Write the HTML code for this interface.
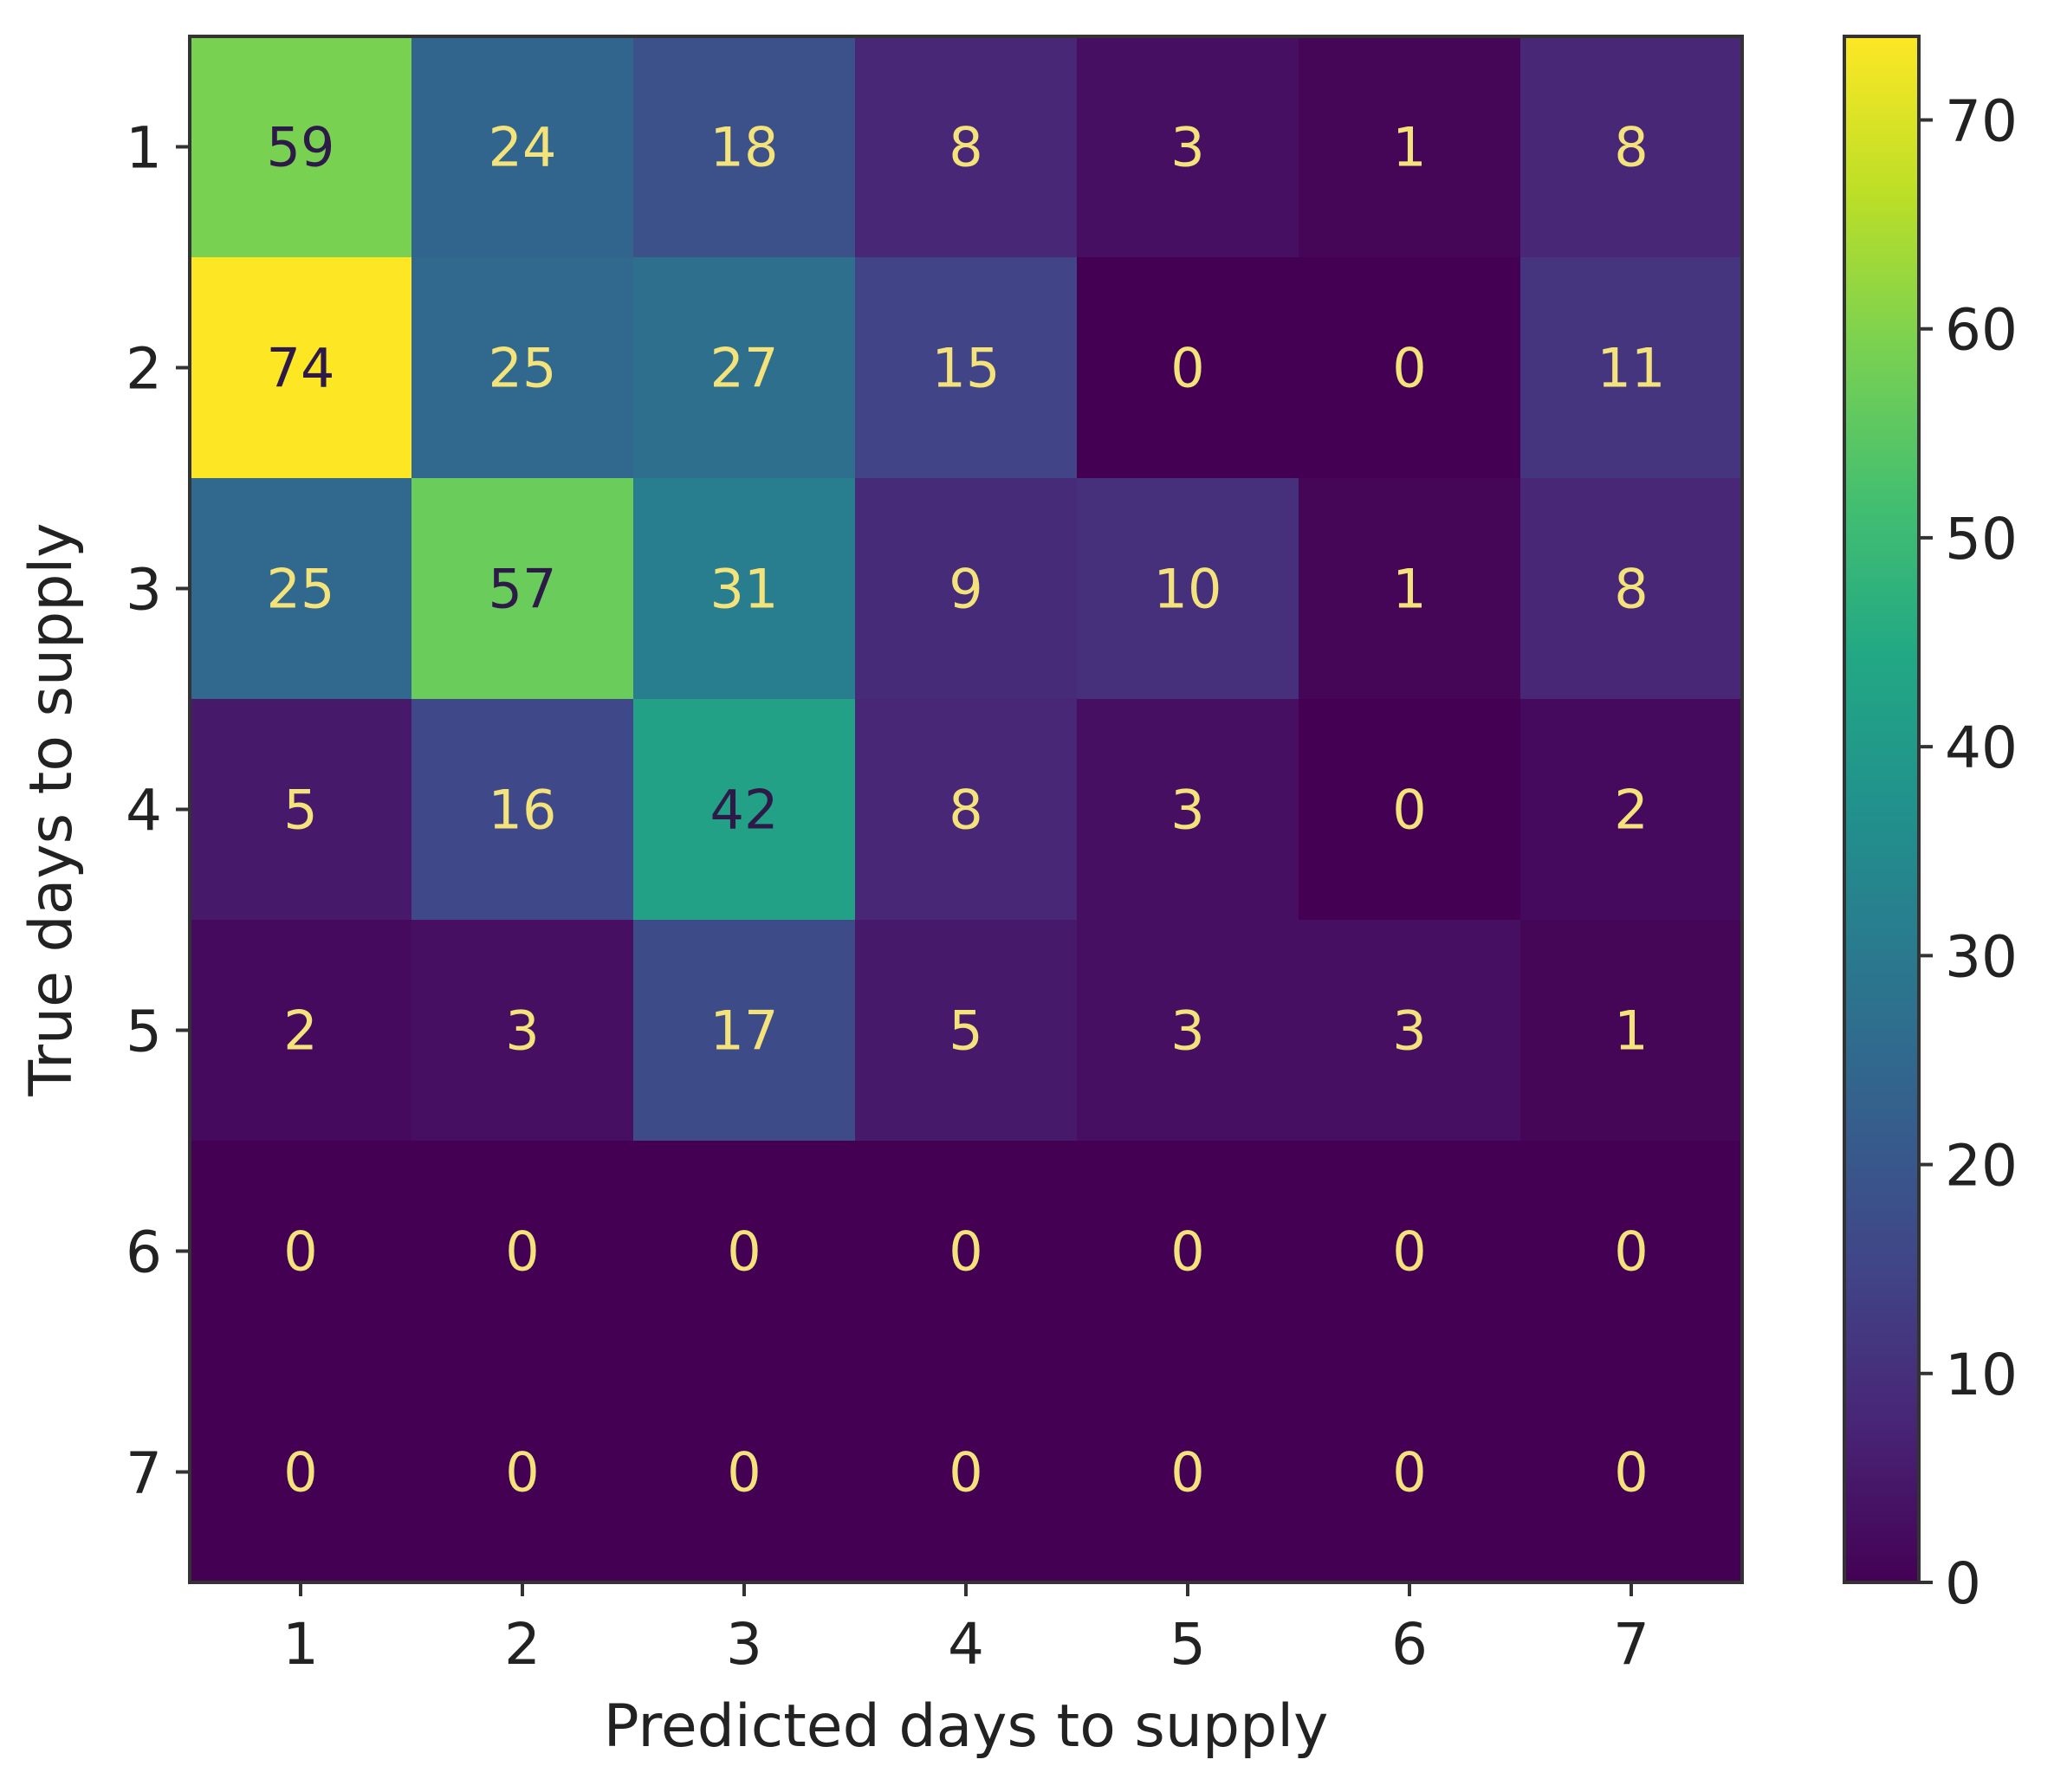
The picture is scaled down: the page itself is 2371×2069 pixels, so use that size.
<!DOCTYPE html>
<html><head><meta charset="utf-8"><style>
html,body{margin:0;padding:0;background:#fff;}
svg{display:block;}
text{font-family:"DejaVu Sans","Liberation Sans",sans-serif;}
</style></head><body>
<svg id="chart" width="2371" height="2069" viewBox="0 0 2371 2069" xmlns="http://www.w3.org/2000/svg">
<defs>
<linearGradient id="vir" x1="0" y1="1" x2="0" y2="0">
<stop offset="0" stop-color="#440154"/><stop offset="0.1" stop-color="#482475"/><stop offset="0.2" stop-color="#414487"/><stop offset="0.3" stop-color="#355f8d"/><stop offset="0.4" stop-color="#2a788e"/><stop offset="0.5" stop-color="#21918c"/><stop offset="0.6" stop-color="#22a884"/><stop offset="0.7" stop-color="#44bf70"/><stop offset="0.8" stop-color="#7ad151"/><stop offset="0.9" stop-color="#bddf26"/><stop offset="1" stop-color="#fde725"/>
</linearGradient>
</defs>
<g id="cells"></g>
<g id="axes"></g>
</svg>
<script>
const categories = ["1","2","3","4","5","6","7"];
const matrixValues = [
 [59,24,18,8,3,1,8],
 [74,25,27,15,0,0,11],
 [25,57,31,9,10,1,8],
 [5,16,42,8,3,0,2],
 [2,3,17,5,3,3,1],
 [0,0,0,0,0,0,0],
 [0,0,0,0,0,0,0]
];
const colorbarTicks = [0,10,20,30,40,50,60,70];
const vmin = 0, vmax = 74;

const NS="http://www.w3.org/2000/svg";
const L=219,R=2011,T=42,B=1827;
const cw=(R-L)/categories.length, ch=(B-T)/categories.length;
const xPos=i=>L+cw*i, yPos=i=>T+ch*i;
const CBL=2129,CBR=2215;
const cbY=v=>B-(v-vmin)/(vmax-vmin)*(B-T);
const stops=["#440154","#482475","#414487","#355f8d","#2a788e","#21918c","#22a884","#44bf70","#7ad151","#bddf26","#fde725"];
function hex(h){return [1,3,5].map(i=>parseInt(h.substr(i,2),16));}
function viridis(t){t=Math.max(0,Math.min(1,t));const p=t*10,i=Math.min(9,Math.floor(p)),f=p-i;const a=hex(stops[i]),b=hex(stops[i+1]);return `rgb(${a.map((c,k)=>Math.round(c+(b[k]-c)*f)).join(",")})`;}
function mk(tag,attrs,parent,txt){const e=document.createElementNS(NS,tag);for(const k in attrs)e.setAttribute(k,attrs[k]);if(txt!==undefined)e.textContent=txt;parent.appendChild(e);return e;}
const cells=document.getElementById('cells'), axes=document.getElementById('axes');
const thr=(vmax+vmin)/2;
matrixValues.forEach((row,r)=>row.forEach((v,c)=>{
  const rect=mk('rect',{x:xPos(c),y:yPos(r),width:cw+0.5,height:ch+0.5,fill:viridis((v-vmin)/(vmax-vmin))},cells);
  
  
  const t=mk('text',{x:xPos(c)+cw/2,y:yPos(r)+ch/2+22,'text-anchor':'middle','font-size':62,fill:v>=thr?'#2e1a48':'#f3e37a'},cells,String(v));
  
  
}));
const frame=mk('rect',{x:L,y:T,width:R-L,height:B-T,fill:'none',stroke:'#333',"stroke-width":4},axes);


categories.forEach((c,i)=>{
  const x=xPos(i)+cw/2;
  mk('line',{x1:x,y1:B,x2:x,y2:B+16,stroke:'#333','stroke-width':4},axes);
  const tx=mk('text',{x:x,y:B+94,'text-anchor':'middle','font-size':66,fill:'#222'},axes,c);
  
  
  const y=yPos(i)+ch/2;
  mk('line',{x1:L-16,y1:y,x2:L,y2:y,stroke:'#333','stroke-width':4},axes);
  const ty=mk('text',{x:L-32,y:y+24,'text-anchor':'end','font-size':66,fill:'#222'},axes,c);
  
  
});
const xt=mk('text',{x:(L+R)/2,y:2016,'text-anchor':'middle','font-size':68,fill:'#222'},axes,'Predicted days to supply');


const yt=mk('text',{x:0,y:0,'text-anchor':'middle','font-size':68,fill:'#222',transform:`translate(82,${(T+B)/2}) rotate(-90)`},axes,'True days to supply');


const cb=mk('rect',{x:CBL,y:T,width:CBR-CBL,height:B-T,fill:'url(#vir)',stroke:'#333','stroke-width':4},axes);


colorbarTicks.forEach(v=>{
  const y=cbY(v);
  mk('line',{x1:CBR,y1:y,x2:CBR+16,y2:y,stroke:'#333','stroke-width':4},axes);
  const t=mk('text',{x:CBR+30,y:y+24,'font-size':66,fill:'#222'},axes,String(v));
  
  
});
</script>
</body></html>
